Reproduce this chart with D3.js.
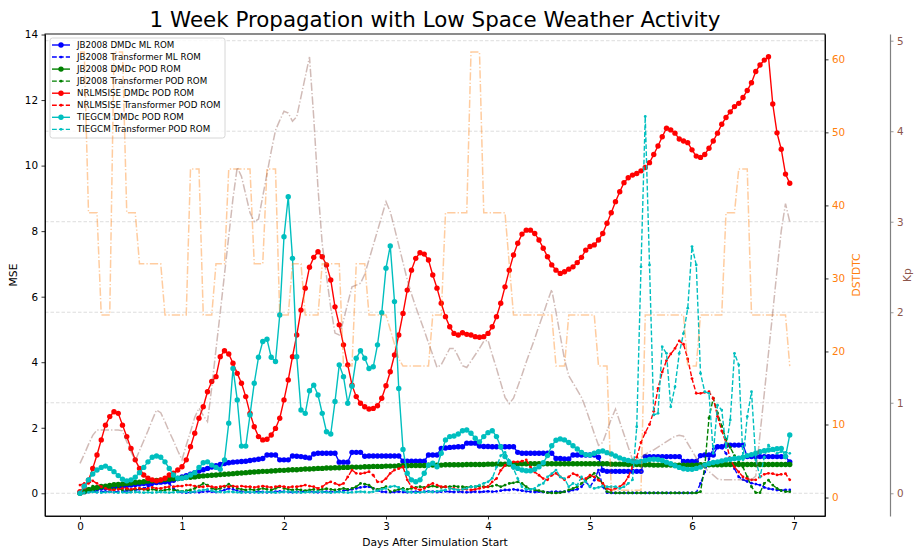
<!DOCTYPE html>
<html><head><meta charset="utf-8">
<script src="https://cdn.jsdelivr.net/npm/d3@7"></script>
<style>
body{margin:0;background:#fff}
svg{display:block}
text{font-family:"DejaVu Sans",sans-serif}
</style>
</head><body>
<svg id="chart" width="914" height="550"></svg>
<script>
// ---------------- DATA (hourly samples, 1/24 day apart) ----------------
const stepDays = 1 / 24;

const jbDmdcMl = [
0.02,0.05,0.08,0.12,0.15,0.17,0.18,0.2,0.2,0.21,
0.22,0.24,0.25,0.27,0.28,0.3,0.3,0.32,0.33,0.34,
0.35,0.37,0.4,0.45,0.5,0.54,0.58,0.63,0.68,0.72,
0.76,0.8,0.84,0.88,0.91,0.93,0.95,0.96,0.97,0.98,
1.0,1.02,1.04,1.06,1.17,1.17,1.17,1.02,1.02,1.02,
1.14,1.13,1.12,1.1,1.08,1.2,1.22,1.22,1.22,1.22,
1.22,0.95,0.95,0.95,1.25,1.25,1.25,1.13,1.14,1.14,
1.14,1.14,1.14,1.14,1.14,1.14,0.98,0.98,0.98,0.98,
0.98,0.98,1.17,1.17,1.17,1.37,1.38,1.4,1.41,1.42,
1.42,1.53,1.53,1.53,1.44,1.43,1.43,1.42,1.42,1.42,
1.42,1.42,1.42,1.25,1.22,1.22,1.22,1.22,1.22,1.22,
1.22,1.22,1.06,1.06,1.05,1.05,1.17,1.17,1.17,1.17,
1.17,1.17,1.1,0.7,0.67,0.67,0.67,0.67,0.67,0.67,
0.67,0.67,0.67,1.12,1.12,1.12,1.12,1.12,1.12,1.12,
1.12,1.12,0.97,0.97,0.97,0.97,1.15,1.17,1.17,1.17,
1.42,1.42,1.46,1.47,1.47,1.47,1.47,1.12,1.12,1.12,
1.12,1.12,1.12,1.12,1.12,1.12,1.12,0.96];

const jbTransMl = [
0.02,0.05,0.08,0.06,0.04,0.05,0.06,0.05,0.04,0.05,
0.06,0.07,0.08,0.1,0.12,0.15,0.2,0.25,0.3,0.33,
0.35,0.3,0.15,0.05,0.03,0.02,0.03,0.04,0.03,0.05,
0.06,0.05,0.04,0.06,0.1,0.15,0.12,0.08,0.05,0.04,
0.03,0.04,0.05,0.04,0.03,0.04,0.05,0.06,0.05,0.04,
0.03,0.04,0.05,0.06,0.05,0.04,0.03,0.04,0.05,0.04,
0.05,0.06,0.08,0.1,0.12,0.15,0.18,0.2,0.2,0.15,
0.08,0.05,0.04,0.03,0.04,0.05,0.04,0.03,0.04,0.05,
0.04,0.05,0.06,0.05,0.04,0.05,0.06,0.05,0.04,0.05,
0.04,0.03,0.04,0.05,0.04,0.05,0.06,0.05,0.06,0.08,
0.1,0.1,0.12,0.1,0.08,0.06,0.05,0.04,0.05,0.04,
0.03,0.04,0.05,0.04,0.05,0.06,0.1,0.12,0.2,0.35,
0.2,0.4,0.71,0.2,0.02,0.01,0.01,0.01,0.01,0.01,
0.01,0.01,0.01,0.01,0.01,0.01,0.01,0.01,0.01,0.01,
0.01,0.01,0.01,0.01,0.01,0.02,0.3,0.65,1.05,1.35,
1.42,1.4,1.22,1.0,0.75,0.5,0.42,0.36,0.31,0.28,
0.25,0.18,0.14,0.12,0.1,0.09,0.1,0.1];

const jbDmdcPod = [
0.0,0.05,0.1,0.14,0.17,0.2,0.22,0.24,0.26,0.27,
0.28,0.3,0.31,0.33,0.34,0.35,0.37,0.38,0.39,0.4,
0.42,0.43,0.44,0.45,0.47,0.48,0.49,0.5,0.52,0.53,
0.54,0.55,0.56,0.57,0.58,0.59,0.6,0.61,0.62,0.63,
0.64,0.65,0.66,0.67,0.67,0.68,0.69,0.7,0.7,0.71,
0.72,0.72,0.73,0.74,0.74,0.75,0.76,0.76,0.77,0.77,
0.78,0.78,0.79,0.79,0.8,0.8,0.8,0.81,0.81,0.82,
0.82,0.82,0.83,0.83,0.83,0.84,0.84,0.84,0.85,0.85,
0.85,0.85,0.86,0.86,0.86,0.86,0.87,0.87,0.87,0.87,
0.87,0.88,0.88,0.88,0.88,0.88,0.89,0.89,0.89,0.89,
0.89,0.89,0.9,0.9,0.9,0.9,0.9,0.9,0.9,0.9,
0.9,0.9,0.9,0.9,0.9,0.9,0.9,0.9,0.9,0.9,
0.9,0.9,0.9,0.9,0.9,0.89,0.89,0.89,0.89,0.88,
0.88,0.88,0.87,0.87,0.87,0.86,0.86,0.86,0.86,0.86,
0.86,0.86,0.86,0.86,0.86,0.86,0.87,0.87,0.87,0.87,
0.87,0.87,0.88,0.88,0.88,0.88,0.88,0.88,0.88,0.88,
0.88,0.88,0.88,0.88,0.88,0.88,0.88,0.88];

const jbTransPod = [
0.0,0.1,0.15,0.22,0.2,0.25,0.2,0.15,0.12,0.15,
0.1,0.12,0.1,0.12,0.14,0.12,0.1,0.12,0.1,0.08,
0.1,0.12,0.1,0.08,0.06,0.08,0.1,0.15,0.22,0.3,
0.25,0.15,0.12,0.15,0.2,0.28,0.2,0.15,0.12,0.1,
0.12,0.1,0.12,0.15,0.12,0.1,0.15,0.2,0.15,0.12,
0.1,0.12,0.1,0.08,0.1,0.12,0.1,0.12,0.14,0.12,
0.1,0.12,0.15,0.12,0.15,0.2,0.3,0.28,0.25,0.15,
0.12,0.15,0.2,0.05,0.08,0.12,0.15,0.12,0.15,0.18,
0.2,0.18,0.2,0.22,0.2,0.18,0.2,0.2,0.22,0.2,
0.2,0.18,0.2,0.2,0.22,0.2,0.2,0.22,0.25,0.2,
0.25,0.3,0.32,0.35,0.3,0.2,0.12,0.1,0.08,0.05,
0.02,0.01,0.01,0.02,0.05,0.1,0.15,0.2,0.3,0.41,
0.5,0.61,0.45,0.3,0.05,0.02,0.01,0.01,0.01,0.01,
0.01,0.01,0.01,0.01,0.01,0.01,0.01,0.01,0.01,0.01,
0.01,0.01,0.01,0.01,0.01,0.01,0.05,0.8,2.3,2.9,
2.45,2.05,1.65,1.4,1.15,0.95,0.8,0.5,0.2,0.02,
0.02,0.3,0.4,0.25,0.15,0.08,0.05,0.05];

const nrlDmdcPod = [
0.05,0.2,0.4,0.76,1.17,1.63,2.08,2.34,2.49,2.44,
2.08,1.73,1.37,1.02,0.76,0.56,0.46,0.41,0.38,0.41,
0.46,0.56,0.61,0.71,0.81,1.02,1.42,1.83,2.29,2.64,
3.1,3.41,3.56,4.17,4.35,4.25,3.97,3.66,3.36,2.95,
2.44,2.03,1.73,1.63,1.65,1.78,1.98,2.29,2.85,3.46,
4.17,4.83,5.59,6.26,6.9,7.2,7.37,7.22,6.97,6.51,
5.69,5.14,4.53,3.92,3.3,2.95,2.75,2.64,2.57,2.59,
2.67,2.9,3.28,3.71,4.22,4.83,5.49,6.2,6.81,7.17,
7.34,7.3,7.12,6.66,6.26,5.8,5.39,5.08,4.88,4.83,
4.9,4.85,4.83,4.78,4.76,4.78,4.88,5.08,5.39,5.8,
6.3,6.81,7.27,7.63,7.91,8.03,8.03,7.93,7.73,7.48,
7.22,6.97,6.81,6.71,6.76,6.84,6.91,7.04,7.2,7.42,
7.53,7.58,7.73,7.93,8.24,8.56,8.9,9.2,9.48,9.63,
9.71,9.76,9.84,9.94,10.09,10.34,10.6,10.88,11.14,11.09,
10.99,10.81,10.75,10.7,10.48,10.29,10.25,10.34,10.53,10.75,
10.99,11.26,11.47,11.64,11.8,11.9,12.08,12.29,12.53,12.87,
13.07,13.22,13.32,11.88,11.0,10.5,9.74,9.46];

const nrlTransPod = [
0.25,0.3,0.3,0.38,0.3,0.2,0.15,0.1,0.1,0.12,
0.15,0.15,0.12,0.15,0.15,0.12,0.15,0.18,0.15,0.15,
0.18,0.2,0.2,0.22,0.22,0.25,0.25,0.22,0.2,0.2,
0.22,0.2,0.18,0.2,0.22,0.2,0.22,0.2,0.22,0.2,
0.2,0.18,0.2,0.22,0.2,0.18,0.2,0.22,0.2,0.18,
0.2,0.2,0.22,0.25,0.22,0.2,0.15,0.2,0.3,0.35,
0.3,0.25,0.3,0.5,0.71,0.61,0.6,0.62,0.66,0.55,
0.35,0.35,0.45,0.61,0.71,0.75,0.81,0.41,0.2,0.15,
0.1,0.15,0.25,0.3,0.25,0.2,0.2,0.15,0.15,0.1,
0.12,0.12,0.1,0.12,0.15,0.18,0.2,0.35,0.45,0.7,
0.85,0.96,0.96,0.96,0.98,1.02,0.8,0.65,0.55,0.45,
0.41,0.55,0.61,0.5,0.41,0.5,0.6,0.55,0.45,0.45,
0.55,0.5,0.4,0.3,0.15,0.1,0.15,0.2,0.3,0.5,
0.8,1.1,1.55,1.85,2.1,2.5,3.2,3.7,4.05,4.25,
4.42,4.65,4.55,4.1,3.5,3.05,3.05,3.08,3.1,2.9,
2.35,1.9,1.55,1.05,0.8,0.65,0.5,0.45,0.41,0.41,
0.5,0.58,0.61,0.6,0.56,0.58,0.6,0.41];

const tieDmdcPod = [
0.0,0.22,0.41,0.59,0.71,0.79,0.83,0.76,0.66,0.54,
0.43,0.38,0.41,0.49,0.63,0.79,0.96,1.1,1.14,1.1,
0.96,0.76,0.56,0.46,0.46,0.49,0.56,0.63,0.79,0.93,
0.96,0.86,0.79,0.73,1.02,2.14,3.81,2.85,1.44,1.44,
2.39,3.36,4.15,4.63,4.7,4.15,4.02,5.44,7.83,9.05,
7.17,4.17,2.54,2.44,3.13,3.3,3.0,2.44,1.88,1.81,
2.8,3.92,3.56,2.75,3.27,4.12,4.35,4.12,3.81,3.86,
4.53,5.51,6.87,7.55,5.85,3.2,1.34,0.61,0.41,0.35,
0.41,0.61,0.86,0.92,0.81,1.22,1.63,1.73,1.75,1.81,
1.91,1.93,1.83,1.68,1.57,1.73,1.85,1.91,1.73,1.42,
1.12,0.93,0.81,0.76,0.71,0.69,0.69,0.73,0.81,0.93,
1.15,1.45,1.62,1.66,1.63,1.55,1.45,1.35,1.25,1.18,
1.17,1.22,1.27,1.29,1.24,1.2,1.14,1.08,1.03,1.0,
0.98,0.96,0.97,1.0,1.03,1.04,1.03,1.0,0.95,0.9,
0.84,0.79,0.75,0.73,0.73,0.76,0.8,0.86,0.91,0.94,
0.96,0.99,1.02,1.04,1.06,1.07,1.1,1.15,1.18,1.22,
1.27,1.3,1.32,1.34,1.36,1.37,1.12,1.78];

const tieTransPod = [
0.0,0.02,0.03,0.04,0.03,0.02,0.03,0.04,0.03,0.02,
0.03,0.02,0.03,0.04,0.03,0.02,0.03,0.02,0.03,0.04,
0.03,0.02,0.03,0.04,0.05,0.04,0.03,0.05,0.08,0.1,
0.12,0.08,0.05,0.04,0.03,0.05,0.04,0.03,0.02,0.03,
0.04,0.03,0.02,0.03,0.04,0.03,0.02,0.03,0.04,0.05,
0.04,0.03,0.02,0.03,0.04,0.03,0.05,0.04,0.03,0.02,
0.03,0.04,0.03,0.02,0.03,0.04,0.05,0.04,0.03,0.05,
0.08,0.12,0.15,0.2,0.22,0.18,0.1,0.05,0.03,0.02,
0.03,0.04,0.05,0.04,0.06,0.08,0.1,0.15,0.12,0.1,
0.12,0.15,0.2,0.2,0.25,0.3,0.35,0.46,0.8,1.15,
1.25,1.0,0.75,0.45,0.2,0.12,0.12,0.15,0.25,0.3,
0.5,0.6,0.71,0.5,0.45,0.2,0.3,0.25,0.5,0.35,
0.2,0.15,0.18,0.22,0.2,0.2,0.2,0.15,0.2,0.3,
0.41,2.03,6.91,11.5,6.97,2.39,2.44,4.47,4.27,2.64,
3.25,4.27,4.88,5.65,7.53,6.97,3.66,3.1,3.05,1.22,
2.69,2.54,1.4,2.24,4.27,3.92,1.02,2.34,3.1,1.02,
0.5,1.1,1.47,1.32,1.22,1.27,1.25,1.22];

const dstdtc = [
61,61,39,39,39,25,25,25,61,61,
61,39,39,39,32,32,32,32,32,32,
25,25,25,25,25,25,45,45,45,25,
25,25,32,32,32,45,45,45,45,45,
45,32,32,32,45,45,45,25,25,25,
32,32,32,25,25,25,25,32,32,32,
32,32,18,18,18,32,32,32,25,25,
25,25,25,23,21,19,18,18,18,18,
18,18,18,25,25,25,39,39,39,39,
39,39,61,61,61,39,39,39,39,39,
39,32,25,25,25,25,25,25,25,25,
25,25,18,18,18,25,25,25,25,25,
25,25,18,18,18,1,1,1,1,1,
1,1,1,25,25,25,25,25,25,25,
25,25,25,18,18,18,25,25,25,25,
25,25,39,39,39,45,45,45,25,25,
25,25,25,25,25,25,25,18];

const kp = [
0.33,0.43,0.54,0.64,0.7,0.7,0.7,0.7,0.7,0.7,
0.69,0.57,0.46,0.36,0.47,0.58,0.69,0.81,0.92,0.89,
0.79,0.68,0.58,0.47,0.37,0.53,0.68,0.84,0.94,0.86,
0.79,1.17,1.59,2.0,2.42,2.84,3.26,3.6,3.5,3.3,
3.1,3.0,3.03,3.28,3.53,3.78,4.01,4.12,4.22,4.2,
4.11,4.16,4.38,4.6,4.82,4.15,3.37,2.75,2.4,2.05,
1.77,1.75,1.91,2.1,2.28,2.3,2.32,2.42,2.58,2.74,
2.9,3.06,3.22,3.11,2.93,2.74,2.55,2.36,2.2,2.06,
1.93,1.8,1.66,1.53,1.39,1.42,1.51,1.6,1.6,1.51,
1.41,1.39,1.46,1.53,1.6,1.68,1.69,1.53,1.38,1.22,
1.06,0.99,1.05,1.18,1.31,1.45,1.58,1.71,1.85,1.98,
2.12,2.25,2.0,1.74,1.48,1.3,1.22,1.14,1.06,0.94,
0.8,0.66,0.53,0.56,0.69,0.82,0.93,0.79,0.65,0.51,
0.37,0.37,0.4,0.43,0.46,0.48,0.51,0.54,0.57,0.6,
0.63,0.64,0.63,0.55,0.47,0.39,0.32,0.28,0.24,0.2,
0.16,0.15,0.15,0.15,0.15,0.15,0.15,0.15,0.15,0.19,
0.65,1.1,1.55,2.0,2.46,2.9,3.2,3.0];

const seriesNames = [
  "JB2008 DMDc ML ROM","JB2008 Transformer ML ROM",
  "JB2008 DMDc POD ROM","JB2008 Transformer POD ROM",
  "NRLMSISE DMDc POD ROM","NRLMSISE Transformer POD ROM",
  "TIEGCM DMDc POD ROM","TIEGCM Transformer POD ROM"];
const seriesValues = [jbDmdcMl, jbTransMl, jbDmdcPod, jbTransPod,
                      nrlDmdcPod, nrlTransPod, tieDmdcPod, tieTransPod];
const seriesColors = ["#0000ff","#0000ff","#008000","#008000",
                      "#ff0000","#ff0000","#00bfbf","#00bfbf"];
const seriesIsDmdc = [true,false,true,false,true,false,true,false];

const xTicks = [0,1,2,3,4,5,6,7];
const mseTicks = [0,2,4,6,8,10,12,14];
const dstTicks = [0,10,20,30,40,50,60];
const kpTicks = [0,1,2,3,4,5];

const titleText = "1 Week Propagation with Low Space Weather Activity";

// ---------------- LAYOUT ----------------
const L = 45, R = 825, T = 34, B = 516;
const svg = d3.select("#chart");

const x = d3.scaleLinear().domain([-0.3431, 7.3039]).range([L, R]);
const yM = d3.scaleLinear().domain([-0.693, 14.016]).range([B, T]);
const yD = d3.scaleLinear().domain([-2.53, 63.47]).range([B, T]);
const yK = d3.scaleLinear().domain([-0.251, 5.074]).range([B, T]);

const tickFont = 10.4, labelFont = 10.7, legendFont = 8.7;

// grid (at Kp ticks)
svg.append("g").selectAll("line").data(kpTicks).join("line")
  .attr("x1", L).attr("x2", R)
  .attr("y1", d => yK(d)).attr("y2", d => yK(d))
  .attr("stroke", "#cfcfcf").attr("stroke-width", 0.7)
  .attr("stroke-dasharray", "3.5,2");

// MSE series
const plot = svg.append("g");
seriesValues.forEach((vals, s) => {
  const line = d3.line().x((d, i) => x(i * stepDays)).y(d => yM(d));
  const g = plot.append("g");
  g.append("path").datum(vals).attr("d", line)
    .attr("fill", "none").attr("stroke", seriesColors[s])
    .attr("stroke-width", 1.4)
    .attr("stroke-dasharray", seriesIsDmdc[s] ? null : "4.8,2.1");
  g.selectAll("circle").data(vals).join("circle")
    .attr("cx", (d, i) => x(i * stepDays)).attr("cy", d => yM(d))
    .attr("r", seriesIsDmdc[s] ? 2.7 : 1.4)
    .attr("fill", seriesColors[s]);
});

// frame
svg.append("rect").attr("x", L).attr("y", T).attr("width", R - L).attr("height", B - T)
  .attr("fill", "none").attr("stroke", "#000").attr("stroke-width", 0.9);

// axes
const ax = svg.append("g").attr("transform", `translate(0,${B})`)
  .call(d3.axisBottom(x).tickValues(xTicks).tickFormat(d3.format("d")).tickSize(3.5).tickPadding(3.5).tickSizeOuter(0));
const ay = svg.append("g").attr("transform", `translate(${L},0)`)
  .call(d3.axisLeft(yM).tickValues(mseTicks).tickFormat(d3.format("d")).tickSize(3.5).tickPadding(3.5).tickSizeOuter(0));
const ad = svg.append("g").attr("transform", `translate(${R},0)`)
  .call(d3.axisRight(yD).tickValues(dstTicks).tickFormat(d3.format("d")).tickSize(3.5).tickPadding(3.5).tickSizeOuter(0));
const ak = svg.append("g").attr("transform", `translate(890,0)`)
  .call(d3.axisRight(yK).tickValues(kpTicks).tickFormat(d3.format("d")).tickSize(3.5).tickPadding(3.5).tickSizeOuter(0));

[ax, ay, ad].forEach(g => {
  g.select(".domain").attr("stroke", "#000").attr("stroke-width", 0.9);
  g.selectAll(".tick line").attr("stroke", "#000").attr("stroke-width", 0.8);
  g.selectAll("text").attr("font-size", tickFont).attr("fill", "#000")
    .attr("font-family", "DejaVu Sans");
});
ad.selectAll("text").attr("fill", "#ff7f0e");
ak.select(".domain").attr("stroke", "#808080").attr("stroke-width", 1.2);
ak.selectAll(".tick line").attr("stroke", "#808080").attr("stroke-width", 0.8);
ak.selectAll("text").attr("font-size", tickFont).attr("fill", "#8c564b")
  .attr("font-family", "DejaVu Sans");

// DST and Kp lines (twin axes, drawn on top)
const lineD = d3.line().x((d, i) => x(i * stepDays)).y(d => yD(d));
const lineK = d3.line().x((d, i) => x(i * stepDays)).y(d => yK(d));

// legend
const lg = svg.append("g");
lg.append("rect").attr("x", 50).attr("y", 38).attr("width", 175).attr("height", 100)
  .attr("rx", 2.5).attr("fill", "#fff").attr("fill-opacity", 0.8)
  .attr("stroke", "#cccccc").attr("stroke-width", 0.8);
seriesNames.forEach((name, s) => {
  const yy = 45 + s * 12.05;
  lg.append("line").attr("x1", 52).attr("x2", 70).attr("y1", yy).attr("y2", yy)
    .attr("stroke", seriesColors[s]).attr("stroke-width", 1.4)
    .attr("stroke-dasharray", seriesIsDmdc[s] ? null : "4.8,2.1");
  lg.append("circle").attr("cx", 61).attr("cy", yy)
    .attr("r", seriesIsDmdc[s] ? 2.7 : 1.4).attr("fill", seriesColors[s]);
  lg.append("text").attr("x", 77).attr("y", yy).attr("dy", "0.35em")
    .attr("font-size", legendFont).attr("fill", "#000").text(name);
});

svg.append("path").datum(dstdtc).attr("d", lineD).attr("fill", "none")
  .attr("stroke", "#ff7f0e").attr("stroke-opacity", 0.4).attr("stroke-width", 1.5)
  .attr("stroke-dasharray", "8.3,2.1,1.3,2.1");
svg.append("path").datum(kp).attr("d", lineK).attr("fill", "none")
  .attr("stroke", "#8c564b").attr("stroke-opacity", 0.4).attr("stroke-width", 1.5)
  .attr("stroke-dasharray", "8.3,2.1,1.3,2.1");

// titles and labels
svg.append("text").attr("x", (L + R) / 2).attr("y", 27).attr("text-anchor", "middle")
  .attr("font-size", 21.4).attr("fill", "#000").text(titleText);
svg.append("text").attr("x", (L + R) / 2).attr("y", 546).attr("text-anchor", "middle")
  .attr("font-size", labelFont).attr("fill", "#000").text("Days After Simulation Start");
svg.append("text").attr("transform", `translate(17,${(T + B) / 2}) rotate(-90)`)
  .attr("text-anchor", "middle").attr("font-size", labelFont).attr("fill", "#000").text("MSE");
svg.append("text").attr("transform", `translate(860,${(T + B) / 2}) rotate(-90)`)
  .attr("text-anchor", "middle").attr("font-size", labelFont).attr("fill", "#ff7f0e").text("DSTDTC");
svg.append("text").attr("transform", `translate(911,${(T + B) / 2}) rotate(-90)`)
  .attr("text-anchor", "middle").attr("font-size", labelFont).attr("fill", "#8c564b").text("Kp");
</script>
</body></html>
